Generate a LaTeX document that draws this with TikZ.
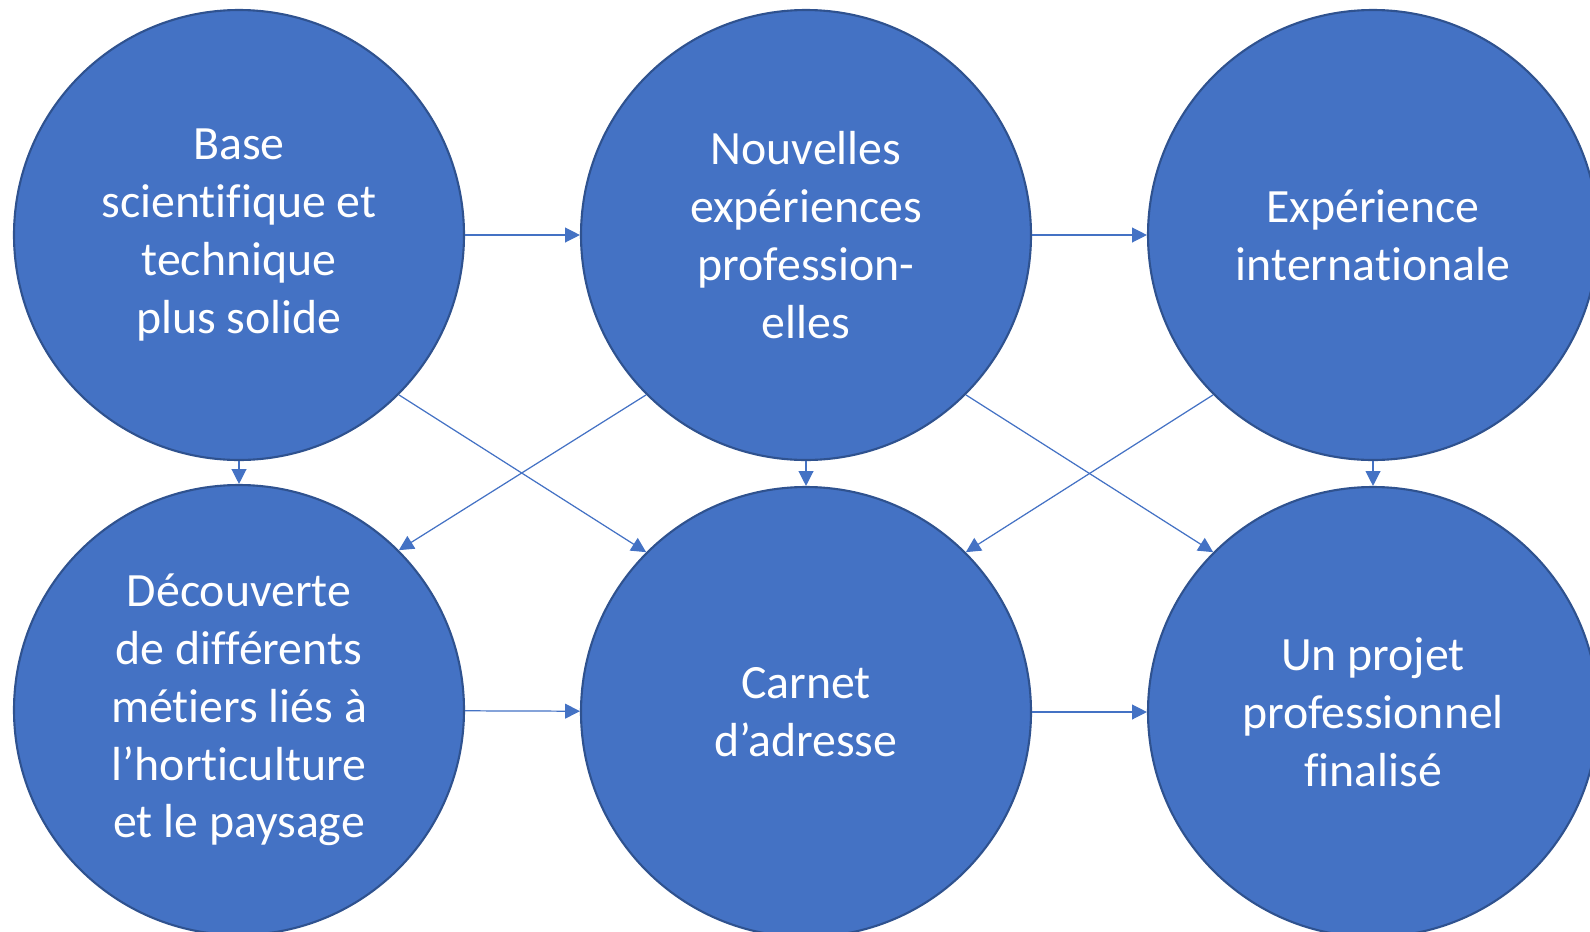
\documentclass[tikz,border=0pt]{standalone}
\usepackage{fontspec}
\setmainfont[Ligatures = NoCommon]{Carlito}
\usetikzlibrary{arrows.meta}
\definecolor{bleu}{RGB}{68, 114, 196}
\definecolor{bleufonce}{RGB}{47, 82, 143}
\tikzset{>=latex}
\tikzset{bulle/.style = {circle, minimum size = 4.5cm, inner sep = 0pt, fill = bleu, draw = bleufonce, line width = 0.6pt, text = white, align = center, font = \fontsize{13.6}{16.45}\selectfont}}
\tikzset{fleche/.style = {draw = bleu, line width = 0.35pt, -{Triangle[length = 4.2pt, width = 4.2pt]}}}

\begin{document}
\begin{tikzpicture}
\useasboundingbox (0,0) rectangle (15.9,9.31);
\node[bulle] (base) at (2.39,6.96) {Base\\scientifique et\\technique\\plus solide};
\node[bulle] (nouv) at (8.06,6.96) {Nouvelles\\expériences\\profession-\\elles};
\node[bulle] (inter) at (13.73,6.96) {Expérience\\internationale};
\node[bulle] (decouv) at (2.39,2.21) {Découverte\\de différents\\métiers liés à\\l’horticulture\\et le paysage};
\node[bulle] (carnet) at (8.06,2.19) {Carnet\\d’adresse};
\node[bulle] (projet) at (13.73,2.19) {Un projet\\professionnel\\finalisé};
\draw[fleche] (base) -- (nouv);
\draw[fleche] (nouv) -- (inter);
\draw[fleche] (decouv) -- (carnet);
\draw[fleche] (carnet) -- (projet);
\draw[fleche] (base) -- (decouv);
\draw[fleche] (nouv) -- (carnet);
\draw[fleche] (inter) -- (projet);
\draw[fleche] (base.-45) -- (carnet.135);
\draw[fleche] (nouv.225) -- (decouv.45);
\draw[fleche] (nouv.-45) -- (projet.135);
\draw[fleche] (inter.225) -- (carnet.45);
\end{tikzpicture}
\end{document}
